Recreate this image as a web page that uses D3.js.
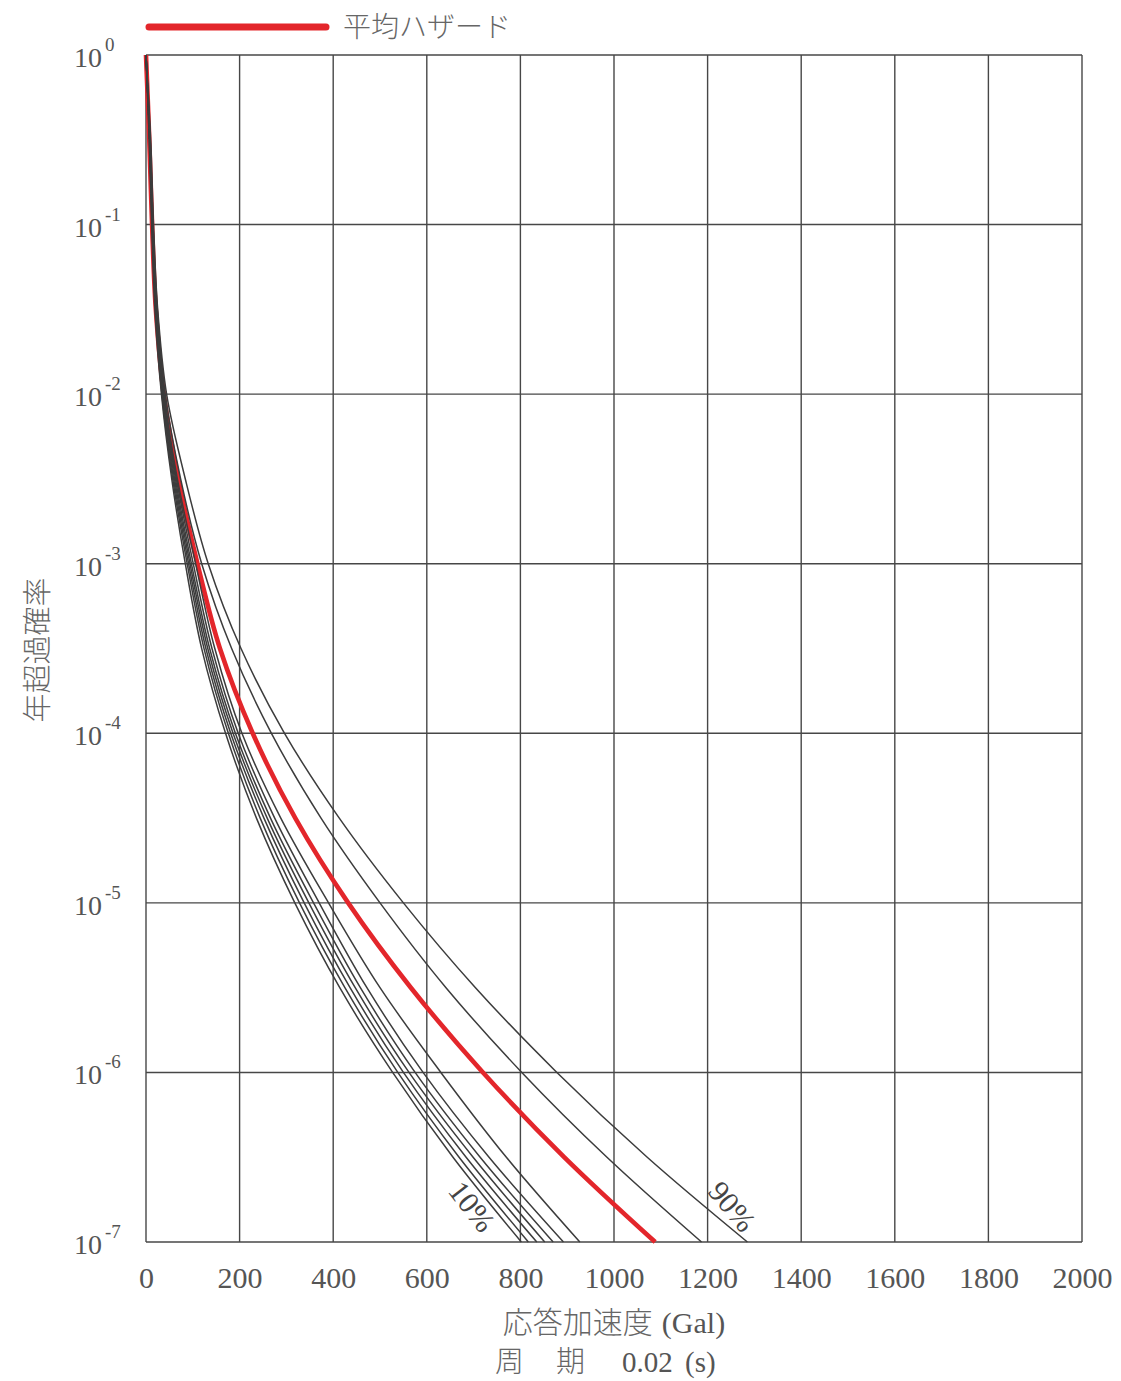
<!DOCTYPE html>
<html>
<head>
<meta charset="utf-8">
<script src="https://cdn.jsdelivr.net/npm/d3@7"></script>
<style>
  html, body { margin: 0; padding: 0; background: #fff; }
  svg { display: block; }
  .num { font-family: "Liberation Serif", "DejaVu Serif", serif; fill: #555; }
  .jp { font-family: "Noto Sans CJK JP", sans-serif; fill: #666; font-weight: 300; }
</style>
</head>
<body>
<svg id="chart" width="1121" height="1381"></svg>
<script>
// Annual exceedance probability levels (shared by every curve)
const exceedance = [1, 3.16e-1, 1e-1, 3.16e-2, 1e-2, 3.16e-3, 1e-3, 3.16e-4,
                    1e-4, 3.16e-5, 1e-5, 3.16e-6, 1e-6, 3.16e-7, 1e-7];

// Response acceleration (Gal) reaching each exceedance level
const meanHazard = [0, 7, 13, 21, 38, 69, 110, 158, 228, 319, 432, 566, 720, 894, 1088];
const fractile10 = [0, 7, 12, 19, 33, 55, 84, 119, 170, 236, 318, 414, 527, 656, 802];
const fractile20 = [0, 7, 13, 20, 34, 57, 88, 124, 176, 244, 328, 425, 538, 669, 817];
const fractile30 = [0, 8, 13, 21, 35, 59, 91, 128, 181, 252, 338, 436, 550, 684, 835];
const fractile40 = [0, 8, 14, 21, 36, 61, 94, 132, 186, 259, 348, 447, 562, 699, 852];
const fractile50 = [0, 8, 14, 22, 37, 63, 97, 136, 191, 266, 358, 458, 575, 714, 870];
const fractile60 = [0, 8, 14, 22, 38, 65, 101, 141, 197, 275, 370, 472, 592, 733, 892];
const fractile70 = [0, 9, 15, 23, 39, 67, 106, 147, 205, 288, 390, 500, 630, 770, 927];
const fractile80 = [0, 9, 15, 24, 41, 74, 119, 183, 268, 374, 500, 641, 803, 985, 1187];
const fractile90 = [0, 10, 16, 25, 44, 84, 133, 203, 296, 413, 550, 704, 878, 1071, 1285];

const fractiles = [fractile10, fractile20, fractile30, fractile40, fractile50,
                   fractile60, fractile70, fractile80, fractile90];

// Axis ticks
const xTicks = [0, 200, 400, 600, 800, 1000, 1200, 1400, 1600, 1800, 2000];
const yExponents = [0, -1, -2, -3, -4, -5, -6, -7];

// Text
const legendLabel = "平均ハザード";
const xTitleJp = "応答加速度";
const xTitleUnit = "(Gal)";
const yTitle = "年超過確率";
const periodParts = ["周", "期", "0.02", "(s)"];

const svg = d3.select("#chart");
const plotLeft = 146, plotRight = 1082, plotTop = 55, plotBottom = 1242;

const x = d3.scaleLinear().domain([0, 2000]).range([plotLeft, plotRight]);
const y = d3.scaleLog().domain([1, 1e-7]).range([plotTop, plotBottom]);

const gridColor = "#474747";

// Grid
const grid = svg.append("g");
grid.selectAll("line.v").data(xTicks).join("line")
  .attr("class", "v")
  .attr("x1", d => x(d)).attr("x2", d => x(d))
  .attr("y1", plotTop).attr("y2", plotBottom)
  .attr("stroke", gridColor).attr("stroke-width", 1.4);
grid.selectAll("line.h").data(yExponents).join("line")
  .attr("class", "h")
  .attr("x1", plotLeft).attr("x2", plotRight)
  .attr("y1", d => y(Math.pow(10, d))).attr("y2", d => y(Math.pow(10, d)))
  .attr("stroke", gridColor).attr("stroke-width", 1.4);

// X axis labels
const xAxis = d3.axisBottom(x).tickValues(xTicks).tickSize(0).tickPadding(0)
  .tickFormat(d3.format("d"));
const gx = svg.append("g").attr("transform", `translate(0,${plotBottom + 46})`).call(xAxis);
gx.select(".domain").remove();
gx.attr("font-family", null).attr("font-size", null);
gx.selectAll("text")
  .attr("class", "num")
  .attr("dy", null)
  .attr("y", 0)
  .style("font-size", "30px")
  .style("fill", "#555");

// Y axis labels with superscript exponents
const ylab = svg.append("g");
yExponents.forEach(e => {
  const yy = y(Math.pow(10, e));
  const t = ylab.append("text").attr("class", "num")
    .attr("x", 74).attr("y", yy + 12)
    .style("font-size", "28px");
  t.append("tspan").text("10");
  t.append("tspan").attr("dx", 3).attr("dy", -16).style("font-size", "19px")
    .text(e === 0 ? "0" : "-" + Math.abs(e));
});

// Curves
const line = d3.line()
  .x(d => x(d[0]))
  .y(d => y(d[1]))
  .curve(d3.curveCatmullRom.alpha(0.5));

svg.append("path")
  .datum(meanHazard.map((a, i) => [a, exceedance[i]]))
  .attr("d", line)
  .attr("fill", "none")
  .attr("stroke", "#e3262b")
  .attr("stroke-width", 4.6);

svg.append("g").selectAll("path").data(fractiles).join("path")
  .attr("d", f => line(f.map((a, i) => [a, exceedance[i]])))
  .attr("fill", "none")
  .attr("stroke", "#3c3c3c")
  .attr("stroke-width", 1.5);

// Fractile annotations
svg.append("text").attr("class", "num")
  .attr("transform", `translate(${x(697)},${y(Math.pow(10, -6.79))}) rotate(52)`)
  .attr("text-anchor", "middle").attr("dy", "0.35em")
  .style("font-size", "30px").style("fill", "#444")
  .text("10%");
svg.append("text").attr("class", "num")
  .attr("transform", `translate(${x(1253)},${y(Math.pow(10, -6.79))}) rotate(50)`)
  .attr("text-anchor", "middle").attr("dy", "0.35em")
  .style("font-size", "30px").style("fill", "#444")
  .text("90%");

// Legend
svg.append("line")
  .attr("x1", 149).attr("x2", 326).attr("y1", 27).attr("y2", 27)
  .attr("stroke", "#e3262b").attr("stroke-width", 7).attr("stroke-linecap", "round");
svg.append("text").attr("class", "jp")
  .attr("x", 343).attr("y", 37)
  .style("font-size", "28px")
  .text(legendLabel);

// Axis titles
const xt = svg.append("text").attr("class", "jp")
  .attr("x", (plotLeft + plotRight) / 2).attr("y", 1333)
  .attr("text-anchor", "middle")
  .style("font-size", "30px");
xt.append("tspan").text(xTitleJp);
xt.append("tspan").attr("class", "num").attr("dx", 9).style("font-size", "30px").text(xTitleUnit);

const per = svg.append("text").attr("y", 1372).style("font-size", "29px");
const perX = [495, 556, 622, 685];
periodParts.forEach((p, i) => {
  per.append("tspan").attr("x", perX[i])
    .attr("class", i < 2 ? "jp" : "num")
    .text(p);
});

svg.append("text").attr("class", "jp")
  .attr("transform", `translate(48,650) rotate(-90)`)
  .attr("text-anchor", "middle")
  .style("font-size", "29px")
  .text(yTitle);
</script>
</body>
</html>
